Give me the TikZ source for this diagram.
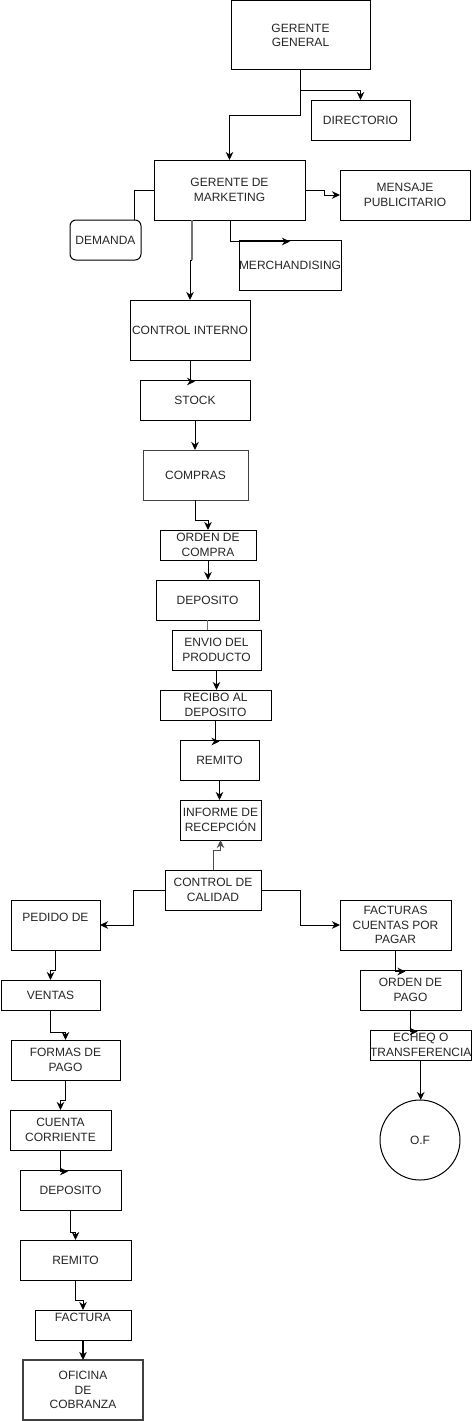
\documentclass[tikz,border=0pt]{standalone}
\usepackage{fontspec}
\setmainfont{Liberation Sans}
\usetikzlibrary{arrows.meta}
\tikzset{
  box/.style={draw=black, fill=white, line width=1pt, inner sep=0pt, outer sep=0pt,
    align=center, text=black!85, font=\fontsize{12}{14.5}\selectfont},
  arr/.style={draw=black, line width=1pt, -{Stealth[length=8pt,width=7.5pt,inset=2.5pt]}},
  ln/.style={draw=black, line width=1pt},
  grayln/.style={draw=black!55, line width=1.2pt},
}
\begin{document}
\begin{tikzpicture}[x=1pt,y=-1pt]
\useasboundingbox (0,0) rectangle (471,1421);
% nodes
\node[box, minimum width=139pt, minimum height=69.5pt] (gg) at (300.5,35.25) {GERENTE\\GENERAL};
\node[box, minimum width=99pt, minimum height=40pt] (dir) at (360.5,120) {DIRECTORIO};
\node[box, minimum width=151pt, minimum height=60pt] (gm) at (229.5,190) {GERENTE DE\\MARKETING};
\node[box, minimum width=130pt, minimum height=50pt] (mp) at (405,195) {MENSAJE\\PUBLICITARIO};
\node[box, rounded corners=6pt, minimum width=71pt, minimum height=40pt] (dem) at (105.5,240) {DEMANDA};
\node[box, minimum width=100pt, minimum height=50pt] (mer) at (290,265) {MERCHANDISING};
\node[box, minimum width=120pt, minimum height=60pt] (ci) at (190,330) {CONTROL INTERNO};
\node[box, minimum width=110pt, minimum height=40pt] (stock) at (195,400) {STOCK};
\node[box, draw=black!75, minimum width=105pt, minimum height=50pt] (compras) at (195.5,475) {COMPRAS};
\node[box, minimum width=96pt, minimum height=30pt] (oc) at (208,545) {ORDEN DE\\COMPRA};
\node[box, minimum width=103pt, minimum height=40pt] (dep) at (207.5,600) {DEPOSITO};
\node[box, minimum width=89pt, minimum height=40pt] (env) at (216.5,650) {ENVIO DEL\\PRODUCTO};
\node[box, minimum width=111pt, minimum height=30pt] (rec) at (215.5,705) {RECIBO AL\\DEPOSITO};
\node[box, minimum width=79pt, minimum height=40pt] (rem) at (219.5,760) {REMITO};
\node[box, minimum width=81pt, minimum height=40pt] (inf) at (220.5,820) {INFORME DE\\RECEPCIÓN};
\node[box, minimum width=96pt, minimum height=40pt] (cc) at (213,890) {CONTROL DE\\CALIDAD};
\node[box, minimum width=89pt, minimum height=50pt] (ped) at (55.5,925) {PEDIDO DE\\ ~};
\node[box, minimum width=111pt, minimum height=50pt] (fac) at (395.5,925) {FACTURAS\\CUENTAS POR\\PAGAR};
\node[box, minimum width=99pt, minimum height=30pt] (ven) at (50.5,995) {VENTAS};
\node[box, minimum width=109pt, minimum height=40pt] (fdp) at (65.5,1060) {FORMAS DE\\PAGO};
\node[box, minimum width=101pt, minimum height=40pt] (odp) at (410.5,990) {ORDEN DE\\PAGO};
\node[box, minimum width=99.5pt, minimum height=30pt] (ech) at (420.75,1045) {ECHEQ O\\TRANSFERENCIA};
\node[box, circle, minimum size=80pt] (of) at (420,1140) {O.F};
\node[box, minimum width=101pt, minimum height=40pt] (cta) at (60.5,1130) {CUENTA\\CORRIENTE};
\node[box, minimum width=101pt, minimum height=40pt] (dep2) at (70.5,1190) {DEPOSITO};
\node[box, minimum width=111pt, minimum height=40pt] (rem2) at (75.5,1260) {REMITO};
\node[box, minimum width=96pt, minimum height=30pt] (fact) at (83,1325) {FACTURA\\ ~};
\node[box, draw=black!75, line width=1.3pt, minimum width=120pt, minimum height=60pt] (ofi) at (83,1390) {OFICINA\\DE\\COBRANZA};
% connectors
\draw[arr] (gg.south) -- ++(0,45) -| (gm.north);
\draw[arr] ([shift={(0,20)}]gg.south) -| (dir.north);
\draw[arr] (gm.east) -- ++(19,0) |- (mp.west);
\draw[ln] (gm.west) -| ([shift={(28.5,0)}]dem.north);
\draw[arr] ([shift={(0.5,0)}]gm.south) |- ([shift={(0,1.5)}]mer.north);
\draw[grayln] ([shift={(-37.5,0)}]gm.south) -- ++(0,40) coordinate (j1);
\draw[arr] (j1) -| (ci.north);
\draw[arr] (ci.south) |- ([shift={(0,1.5)}]stock.north);
\draw[arr] (stock.south) -- (stock.south |- compras.north);
\draw[arr] (compras.south) -- ++(0,20) -| (oc.north);
\draw[arr] (oc.south) -- (oc.south |- dep.north);
\draw[grayln] (dep.south) -- (dep.south |- env.north);
\draw[arr] (env.south) -- (env.south |- rec.north);
\draw[arr] (rec.south) |- ([shift={(0,1.5)}]rem.north);
\draw[arr] (rem.south) -- (rem.south |- inf.north);
\draw[arr, draw=black!70] (cc.north) -- ++(0,-20) -| (inf.south);
\draw[arr] (cc.west) -- ++(-32,0) |- (ped.east);
\draw[arr] (cc.east) -- ++(39,0) |- (fac.west);
\draw[arr] (ped.south) -- ++(0,20) -| (ven.north);
\draw[arr] (ven.south) -- ++(0,22) -| (fdp.north);
\draw[arr] (fac.south) |- ([shift={(-5,1.5)}]odp.north);
\draw[arr] (odp.south) |- ([shift={(-3,1.5)}]ech.north);
\draw[arr] (ech.south) -- (ech.south |- of.north);
\draw[arr] (fdp.south) -- ++(0,20) -| (cta.north);
\draw[arr] (cta.south) |- ([shift={(-2.5,1.5)}]dep2.north);
\draw[arr] (dep2.south) -- ++(0,22) -| (rem2.north);
\draw[arr] (rem2.south) -- ++(0,20) -| (fact.north);
\draw[arr, line width=2pt] (fact.south) -- (ofi.north);
\end{tikzpicture}
\end{document}
